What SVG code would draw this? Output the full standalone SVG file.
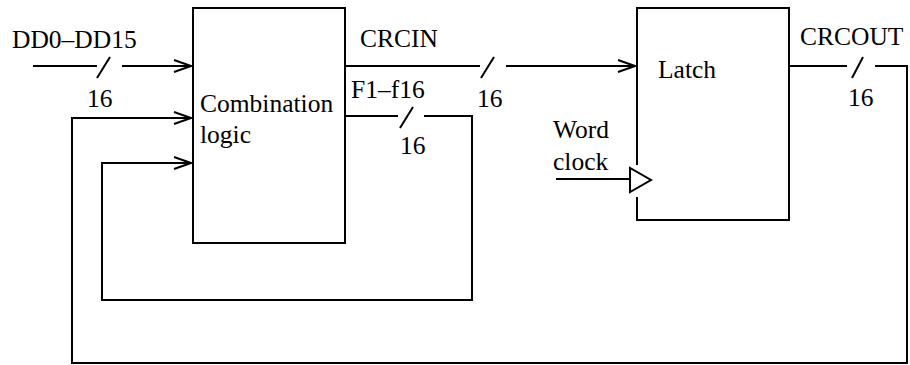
<svg xmlns="http://www.w3.org/2000/svg" width="910" height="365" viewBox="0 0 910 365">
<style>
.ln{fill:none;stroke:#000;stroke-width:2}
.bx{fill:#fff;stroke:#000;stroke-width:2}
.t{font-family:'Liberation Serif','Times New Roman',Tinos,'DejaVu Serif',serif;font-size:25.5px;fill:#000}
</style>
<defs>
<marker id="arr" viewBox="0 0 20 16" refX="19" refY="8" markerWidth="20" markerHeight="16" markerUnits="userSpaceOnUse" orient="auto">
<path d="M2,2 L19,8 L2,14" fill="none" stroke="#000" stroke-width="2"/>
</marker>
</defs>
<rect width="910" height="365" fill="#fff"/>
<g id="combination">
<rect class="bx" x="193" y="8" width="152" height="235"/>
<text class="t" x="200" y="112">Combination</text>
<text class="t" x="200" y="143">logic</text>
</g>
<g id="latch">
<rect class="bx" x="637" y="8" width="152" height="212"/>
<text class="t" x="658" y="78">Latch</text>
</g>
<g id="connectors">
<path class="ln" d="M33,66 H97"/>
<path class="ln" d="M97,78 L110,57"/>
<path class="ln" d="M122,66 H191" marker-end="url(#arr)"/>
<text class="t" x="12" y="48">DD0–DD15</text>
<text class="t" x="87" y="107">16</text>
<path class="ln" d="M345,66 H480"/>
<path class="ln" d="M481,78 L494,57"/>
<path class="ln" d="M506,66 H635" marker-end="url(#arr)"/>
<text class="t" x="360" y="47">CRCIN</text>
<text class="t" x="477" y="107">16</text>
<path class="ln" d="M345,116 H398"/>
<path class="ln" d="M400,128 L413,107"/>
<path class="ln" d="M424,116 H472 V300 H102 V163 H191" marker-end="url(#arr)"/>
<text class="t" x="351" y="98">F1–f16</text>
<text class="t" x="400" y="154">16</text>
<path class="ln" d="M789,66 H847"/>
<path class="ln" d="M852,78 L863,57"/>
<path class="ln" d="M875,66 H907 V363 H72 V118 H191" marker-end="url(#arr)"/>
<text class="t" x="800" y="45">CRCOUT</text>
<text class="t" x="848" y="106">16</text>
<path class="ln" d="M556,179 H629"/>
<rect x="635" y="165" width="4" height="32" fill="#fff"/>
<path class="ln" d="M630,168 V192 L651,180 Z" fill="#fff"/>
<text class="t" x="553" y="138">Word</text>
<text class="t" x="553" y="170">clock</text>
</g>
</svg>
